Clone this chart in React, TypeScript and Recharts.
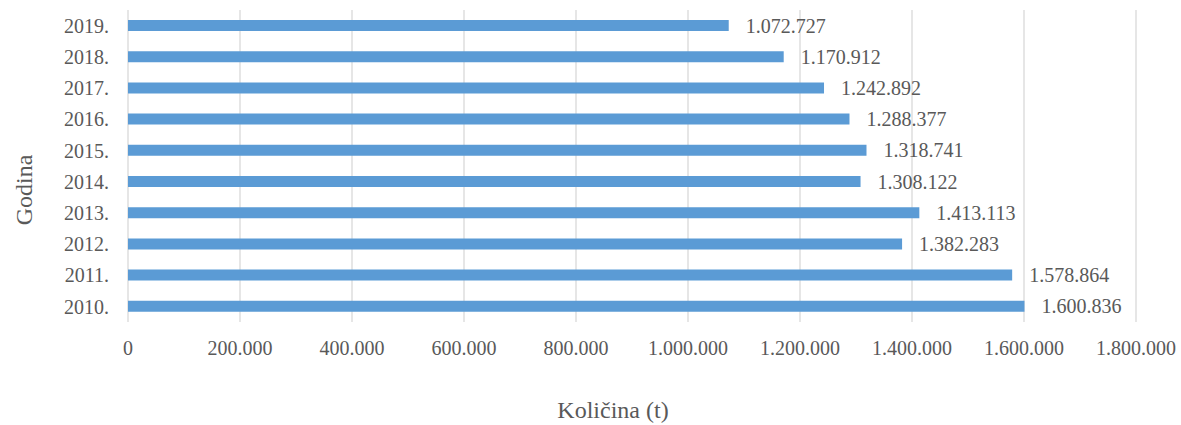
import { BarChart, Bar, XAxis, YAxis, CartesianGrid, LabelList, Label } from 'recharts';

const years = ['2019.', '2018.', '2017.', '2016.', '2015.', '2014.', '2013.', '2012.', '2011.', '2010.'];
const amounts = [1072727, 1170912, 1242892, 1288377, 1318741, 1308122, 1413113, 1382283, 1578864, 1600836];
const xTicks = [0, 200000, 400000, 600000, 800000, 1000000, 1200000, 1400000, 1600000, 1800000];

const FONT = "'Liberation Serif', 'Times New Roman', serif";
const TEXT = '#595959';

// thousands with dots, like the source locale
const fmt = (v: number) => String(Math.round(v)).replace(/\B(?=(\d{3})+(?!\d))/g, '.');

const data = years.map((year, i) => ({ year, amount: amounts[i] }));

if (typeof document !== 'undefined') document.body.style.margin = '0';

const App = () => {
  return (
    <div style={{ width: 1181, height: 425, background: '#fff' }}>
      <BarChart
        width={1181}
        height={425}
        data={data}
        layout="vertical"
        margin={{ top: 10, right: 45, bottom: 0, left: 0 }}
        style={{ fontFamily: FONT }}
      >
        <CartesianGrid horizontal={false} stroke="#D9D9D9" strokeWidth={1.3} />
        <XAxis
          type="number"
          domain={[0, 1800000]}
          ticks={xTicks}
          tickFormatter={fmt}
          axisLine={false}
          tickLine={false}
          tickSize={0}
          tickMargin={19}
          height={103}
          tick={{ fill: TEXT, fontSize: 20, fontFamily: FONT }}
          interval={0}
        >
          <Label
            content={({ viewBox }: any) => (
              <text x={613} y={viewBox.y + 96} textAnchor="middle" fill={TEXT} fontSize={24} fontFamily={FONT}>
                Količina (t)
              </text>
            )}
          />
        </XAxis>
        <YAxis
          type="category"
          dataKey="year"
          width={128}
          axisLine={false}
          tickLine={false}
          tickSize={0}
          tickMargin={19}
          tick={{ fill: TEXT, fontSize: 20, fontFamily: FONT }}
          interval={0}
        >
          <Label
            content={({ viewBox }: any) => {
              const cy = viewBox.y + viewBox.height / 2 + 24;
              return (
                <text x={32} y={cy} transform={`rotate(-90, 32, ${cy})`} textAnchor="middle" fill={TEXT} fontSize={24} fontFamily={FONT}>
                  Godina
                </text>
              );
            }}
          />
        </YAxis>
        <Bar dataKey="amount" fill="#5B9BD5" barSize={11} isAnimationActive={false}>
          <LabelList dataKey="amount" position="right" offset={17} formatter={(v: any) => fmt(Number(v))} fill={TEXT} fontSize={20} fontFamily={FONT} />
        </Bar>
      </BarChart>
    </div>
  );
};

export default App;
